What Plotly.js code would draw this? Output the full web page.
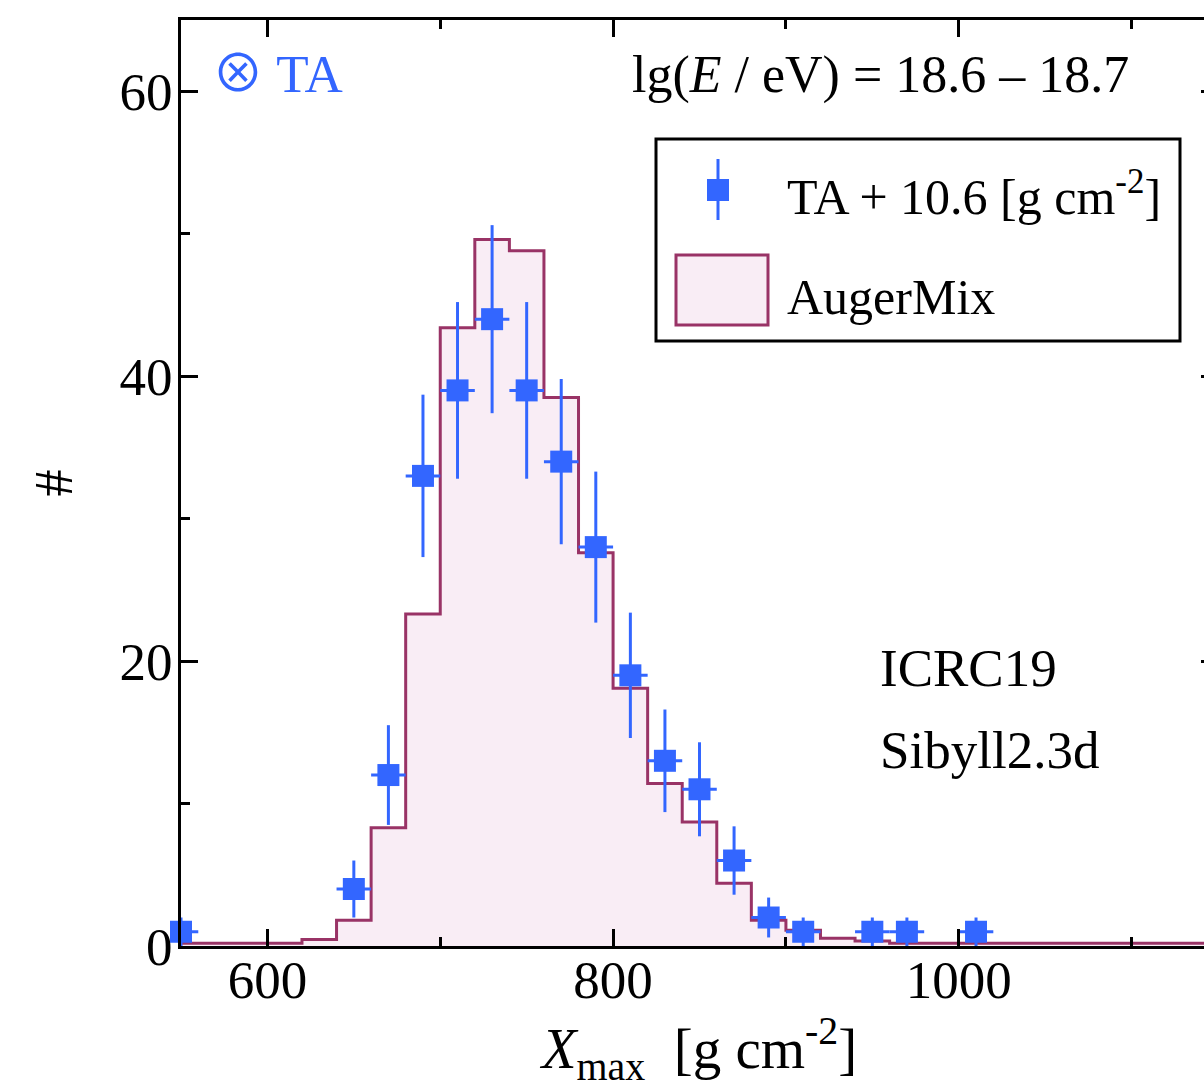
<!DOCTYPE html>
<html>
<head>
<meta charset="utf-8">
<script src="https://cdn.plot.ly/plotly-3.0.1.min.js"></script>
<style>
  html, body { margin: 0; padding: 0; overflow: hidden; background: #ffffff; }
  #chart { width: 1222px; height: 1089px; }
</style>
</head>
<body>
<div id="chart"></div>
<script>
// Xmax bin edges [g cm^-2] of the AugerMix expectation
const binEdges = [540, 560, 580, 600, 620, 640, 660, 680, 700, 720, 740, 760, 780, 800, 820, 840,
                  860, 880, 900, 920, 940, 960, 980, 1000, 1020, 1040, 1060, 1080, 1100, 1120, 1140, 1160];
// AugerMix expected counts per bin
const augerMix = [0.2, 0.2, 0.2, 0.2, 0.45, 1.8, 8.3, 23.3, 43.4, 49.6, 48.8, 38.5, 27.6, 18.1, 11.4, 8.7,
                  4.4, 1.8, 1.1, 0.55, 0.35, 0.2, 0.2, 0.2, 0.2, 0.2, 0.2, 0.2, 0.2, 0.2, 0.2];

// TA events (shifted by +10.6 g cm^-2): bin centres, counts, count errors
const taXmax   = [550, 650, 670, 690, 710, 730, 750, 770, 790, 810, 830, 850, 870, 890, 910, 950, 970, 1010];
const taCounts = [1, 4, 12, 33, 39, 44, 39, 34, 28, 19, 13, 11, 6, 2, 1, 1, 1, 1];
const taErrors = [1, 2, 3.5, 5.7, 6.2, 6.6, 6.2, 5.8, 5.3, 4.4, 3.6, 3.3, 2.4, 1.4, 1, 1, 1, 1];
const taHalfBin = 10;

const xTickVals = [600, 800, 1000];
const yTickVals = [0, 20, 40, 60];

const BLUE = '#3366ff';
const MAROON = '#993366';
const PINK = 'rgb(249,237,245)';
const FONT = 'Liberation Serif, Times New Roman, serif';

// plot-area geometry (pixels)
const M = { l: 181, r: 4, t: 20, b: 143 };
const W = 1222, H = 1089;
const PW = W - M.l - M.r, PH = H - M.t - M.b;
const px = x => (x - M.l) / PW;
const py = y => (H - M.b - y) / PH;

const histY = augerMix.concat([augerMix[augerMix.length - 1]]);

const traces = [
  {
    type: 'scatter', mode: 'lines', x: binEdges, y: histY,
    line: { shape: 'hv', color: MAROON, width: 3 },
    fill: 'tozeroy', fillcolor: PINK,
    hoverinfo: 'x+y', showlegend: false
  },
  {
    type: 'scatter', mode: 'markers', x: taXmax, y: taCounts,
    marker: { symbol: 'square', size: 22, color: BLUE, line: { width: 0 } },
    error_y: { type: 'data', array: taErrors, visible: true, color: BLUE, thickness: 3, width: 0 },
    error_x: { type: 'constant', value: taHalfBin, visible: true, color: BLUE, thickness: 3, width: 0 },
    cliponaxis: false, showlegend: false
  }
];

const axisCommon = {
  showgrid: false, zeroline: false,
  showline: true, linecolor: '#000', linewidth: 3, mirror: 'ticks',
  ticks: 'inside', ticklen: 17, tickwidth: 3, tickcolor: '#000',
  tickfont: { family: FONT, size: 53, color: '#000' },
  layer: 'above traces'
};

const layout = {
  width: W, height: H, autosize: false,
  margin: M,
  paper_bgcolor: '#fff', plot_bgcolor: '#fff',
  showlegend: false,
  xaxis: Object.assign({}, axisCommon, {
    range: [550, 1150], tickvals: xTickVals, ticktext: xTickVals.map(String),
    ticklabelstandoff: -15,
    minor: { ticks: 'inside', ticklen: 9, tickwidth: 3, tickcolor: '#000', dtick: 100, tick0: 0 },
    title: { text: '<i>X</i><sub>max</sub>  [g cm<sup>-2</sup>]', font: { family: FONT, size: 57, color: '#000' }, standoff: 14 }
  }),
  yaxis: Object.assign({}, axisCommon, {
    range: [0, 65], tickvals: yTickVals, ticktext: yTickVals.map(String),
    ticklabelstandoff: -5,
    minor: { ticks: 'inside', ticklen: 9, tickwidth: 3, tickcolor: '#000', dtick: 10, tick0: 0 },
    title: { text: '#', font: { family: FONT, size: 54, color: '#000' }, standoff: 30 }
  }),
  shapes: [
    // legend frame
    { type: 'rect', xref: 'paper', yref: 'paper', x0: px(656), x1: px(1180), y0: py(341), y1: py(139),
      line: { color: '#000', width: 3 }, fillcolor: '#fff', layer: 'above' },
    // TA legend glyph: error bar + square marker
    { type: 'line', xref: 'paper', yref: 'paper', x0: px(718), x1: px(718), y0: py(220), y1: py(159),
      line: { color: BLUE, width: 3 } },
    { type: 'rect', xref: 'paper', yref: 'paper', x0: px(707), x1: px(729), y0: py(201), y1: py(179),
      line: { width: 0 }, fillcolor: BLUE },
    // AugerMix legend swatch
    { type: 'rect', xref: 'paper', yref: 'paper', x0: px(676), x1: px(768), y0: py(325), y1: py(255),
      line: { color: MAROON, width: 3 }, fillcolor: PINK }
  ],
  annotations: [
    { text: '<span style="font-family:Noto Sans CJK JP;font-size:52px">⊗</span> TA', xref: 'paper', yref: 'paper',
      x: px(210), y: py(70), xanchor: 'left', yanchor: 'middle',
      showarrow: false, font: { family: FONT, size: 53, color: BLUE } },
    { text: 'lg(<i>E</i> / eV) = 18.6 – 18.7', xref: 'paper', yref: 'paper', x: px(630), y: py(75),
      xanchor: 'left', yanchor: 'middle', showarrow: false, font: { family: FONT, size: 52, color: '#000' } },
    { text: 'TA + 10.6 [g cm<sup>-2</sup>]', xref: 'paper', yref: 'paper', x: px(785), y: py(193),
      xanchor: 'left', yanchor: 'middle', showarrow: false, font: { family: FONT, size: 50, color: '#000' } },
    { text: 'AugerMix', xref: 'paper', yref: 'paper', x: px(785), y: py(297),
      xanchor: 'left', yanchor: 'middle', showarrow: false, font: { family: FONT, size: 50, color: '#000' } },
    { text: 'ICRC19', xref: 'paper', yref: 'paper', x: px(878), y: py(668),
      xanchor: 'left', yanchor: 'middle', showarrow: false, font: { family: FONT, size: 53, color: '#000' } },
    { text: 'Sibyll2.3d', xref: 'paper', yref: 'paper', x: px(878), y: py(750),
      xanchor: 'left', yanchor: 'middle', showarrow: false, font: { family: FONT, size: 53, color: '#000' } }
  ]
};

Plotly.newPlot('chart', traces, layout, { displayModeBar: false, staticPlot: true });
</script>
</body>
</html>
